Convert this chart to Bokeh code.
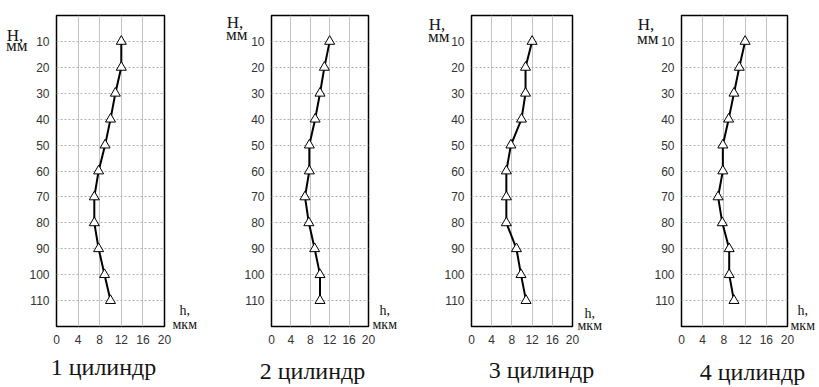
from bokeh.plotting import figure
from bokeh.layouts import row
from bokeh.models import Range1d, FixedTicker, LinearAxis
from bokeh.embed import file_html
from bokeh.resources import INLINE

# ---- data ----
depth_mm = [10, 20, 30, 40, 50, 60, 70, 80, 90, 100, 110]
cyl1 = [12.0, 12.0, 10.9, 10.0, 9.0, 7.8, 7.0, 7.0, 7.8, 8.9, 10.0]
cyl2 = [12.0, 10.9, 10.0, 9.0, 7.8, 7.8, 6.9, 7.7, 8.9, 10.0, 10.0]
cyl3 = [12.0, 10.7, 10.7, 9.9, 7.8, 6.9, 6.9, 6.9, 8.9, 9.8, 10.8]
cyl4 = [12.0, 10.9, 9.9, 8.9, 7.8, 7.8, 6.9, 7.7, 9.0, 9.0, 9.9]
series = [cyl1, cyl2, cyl3, cyl4]
titles = ["1 цилиндр", "2 цилиндр", "3 цилиндр", "4 цилиндр"]
x_ticks = [0, 4, 8, 12, 16, 20]
y_ticks = [10, 20, 30, 40, 50, 60, 70, 80, 90, 100, 110]
y_name, y_unit = "H,", "мм"
x_name, x_unit = "h,", "мкм"

# ---- layout (pixels) ----
H = 387
TOP = 15
NB = "\u00a0"
SERIF = "Liberation Serif, DejaVu Serif, serif"
SANS = "Liberation Sans"
TXT = "#141414"

# width, border_left, border_right, target border_bottom
geom = [
    (205, 56, 41, 55),
    (200, 66, 37, 59),
    (210, 66, 43, 57),
    (204, 66, 32, 59),
]
# title centre position along x (in axis units), title axis standoff
title_cfg = [(8.7, 7), (8.45, 11), (13.86, 10), (13.4, 12)]
# negative spacer after the title (compensates the title box's bottom padding)
SPACER = -6
# left text axis: standoff, H baseline(abs), мм baseline(abs)
left_cfg = [(-1, 41, 51), (-6, 28, 40), (-8, 30, 41.5), (-7, 30, 44)]
# right text axis: standoff, h baseline(abs), мкм baseline(abs)
right_cfg = [(8, 320, 335), (4, 317, 330.7), (5, 322, 334), (3, 317, 331.7)]


def style_text_axis(ax, fs, standoff):
    ax.axis_line_color = None
    ax.major_tick_line_color = None
    ax.minor_tick_line_color = None
    ax.major_tick_out = 0
    ax.major_tick_in = 0
    ax.minor_tick_out = 0
    ax.minor_tick_in = 0
    ax.major_label_standoff = standoff
    ax.major_label_text_font = SERIF
    ax.major_label_text_font_size = f"{fs}px"
    ax.major_label_text_color = TXT


def side_text_axis(p, side, labels, fs, standoff, baselines, ppu):
    ticks = []
    overrides = {}
    for lab, b in zip(labels, baselines):
        yd = round((b - 0.3375 * fs - TOP) / ppu, 3)
        ticks.append(yd)
        overrides[yd] = lab
    ax = LinearAxis(ticker=FixedTicker(ticks=ticks), major_label_overrides=overrides)
    style_text_axis(ax, fs, standoff)
    p.add_layout(ax, side)


figs = []
for i, vals in enumerate(series):
    w, bl, br, bb = geom[i]
    p = figure(width=w, height=H, output_backend="svg", toolbar_location=None,
               x_range=Range1d(0, 20), y_range=Range1d(120, 0),
               min_border_left=bl, min_border_right=br, min_border_top=TOP,
               min_border_bottom=bb, background_fill_color="white",
               border_fill_color="white")
    frame_h = H - TOP - bb
    ppu = frame_h / 120.0
    p.outline_line_color = "black"
    p.outline_line_width = 1.5
    p.outline_line_alpha = 1.0

    p.xaxis.ticker = FixedTicker(ticks=x_ticks)
    p.yaxis.ticker = FixedTicker(ticks=y_ticks)
    for ax in (p.xaxis, p.yaxis):
        ax.axis_line_color = None
        ax.major_tick_line_color = None
        ax.minor_tick_line_color = None
        ax.major_tick_out = 0
        ax.major_tick_in = 0
        ax.minor_tick_out = 0
        ax.minor_tick_in = 0
        ax.major_label_text_font = SANS
        ax.major_label_text_font_size = "12px"
        ax.major_label_text_color = "#333333"
    p.xaxis.major_label_standoff = 8
    p.yaxis.major_label_standoff = 7

    p.xgrid.ticker = FixedTicker(ticks=[4, 8, 12, 16])
    p.xgrid.grid_line_color = "#c4c4c4"
    p.xgrid.grid_line_width = 1
    p.ygrid.ticker = FixedTicker(ticks=y_ticks)
    p.ygrid.grid_line_color = "#b0b0b0"
    p.ygrid.grid_line_dash = "2 2"
    p.ygrid.grid_line_width = 1

    p.line(vals, depth_mm, line_color="black", line_width=2)
    p.scatter(vals, depth_mm, marker="triangle", size=10, fill_color="white",
              line_color="black", line_width=1)

    s, bH, bM = left_cfg[i]
    side_text_axis(p, "left", [y_name + NB, y_unit], 17, s, [bH, bM], ppu)
    s, bh, bk = right_cfg[i]
    side_text_axis(p, "right", [NB + NB + x_name, x_unit], 14, s, [bh, bk], ppu)

    tx, ts = title_cfg[i]
    tax = LinearAxis(ticker=FixedTicker(ticks=[tx]), major_label_overrides={tx: titles[i]})
    style_text_axis(tax, 24, ts)
    p.add_layout(tax, "below")

    spacer = LinearAxis(ticker=FixedTicker(ticks=[10]), major_label_overrides={10: NB})
    style_text_axis(spacer, 1, SPACER)
    p.add_layout(spacer, "below")
    figs.append(p)

layout = row(*figs, spacing=0)
open("out.html", "w").write(file_html(layout, INLINE))
